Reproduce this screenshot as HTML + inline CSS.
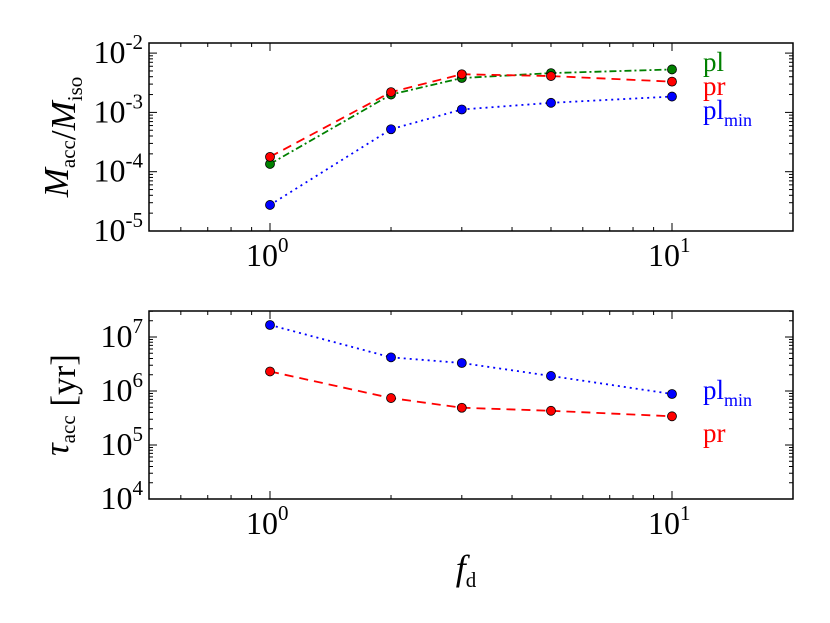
<!DOCTYPE html>
<html><head><meta charset="utf-8"><style>
body{margin:0;background:#fff}
svg{display:block;font-family:"Liberation Serif",serif}
</style></head><body>
<svg id="c" width="830" height="623" viewBox="0 0 830 623" xmlns="http://www.w3.org/2000/svg"></svg>
<script>
const fd = [1, 2, 3, 5, 10];
const macc_pl = [1.35e-4, 2.0e-3, 3.8e-3, 4.6e-3, 5.3e-3];
const macc_pr = [1.78e-4, 2.2e-3, 4.4e-3, 4.1e-3, 3.3e-3];
const macc_plmin = [2.75e-5, 5.2e-4, 1.12e-3, 1.45e-3, 1.85e-3];
const tau_plmin = [1.67e7, 4.2e6, 3.3e6, 1.9e6, 8.8e5];
const tau_pr = [2.3e6, 7.4e5, 4.9e5, 4.3e5, 3.4e5];
const xTickExp = [0, 1];
const topTickExp = [-5, -4, -3, -2];
const botTickExp = [4, 5, 6, 7];

const NS = "http://www.w3.org/2000/svg";
const svg = document.getElementById('c');
function el(tag, attrs, parent) {
  const e = document.createElementNS(NS, tag);
  for (const k in attrs) e.setAttribute(k, attrs[k]);
  (parent || svg).appendChild(e);
  return e;
}
const X0 = 149, X1 = 793;
const xmin = Math.log10(0.5), xmax = Math.log10(20);
function xs(v) { return X0 + (Math.log10(v) - xmin) / (xmax - xmin) * (X1 - X0); }
const topP = {y0: 43, y1: 231, lmin: -5, dec: 59.3};
const botP = {y0: 311, y1: 499, lmin: 4, dec: 54};
function ys(p, v) { return p.y1 - (Math.log10(v) - p.lmin) * p.dec; }

function panel(p, name, yExps) {
  const g = el('g', {});
  
  
  el('rect', {x: X0, y: p.y0, width: X1 - X0, height: p.y1 - p.y0, fill: 'none', stroke: '#000', 'stroke-width': 1.5}, g);
  for (let d = -1; d <= 1; d++) for (let m = 1; m <= 9; m++) {
    const v = m * Math.pow(10, d);
    if (v < 0.5 || v > 20) continue;
    const x = xs(v), L = m === 1 ? 8 : 4;
    el('line', {x1: x, x2: x, y1: p.y1, y2: p.y1 - L, stroke: '#000'}, g);
    el('line', {x1: x, x2: x, y1: p.y0, y2: p.y0 + L, stroke: '#000'}, g);
  }
  const ytop = p.lmin + (p.y1 - p.y0) / p.dec;
  for (let d = p.lmin; d <= Math.ceil(ytop); d++) for (let m = 1; m <= 9; m++) {
    const lv = d + Math.log10(m);
    if (lv > ytop) continue;
    const y = p.y1 - (lv - p.lmin) * p.dec, L = m === 1 ? 8 : 4;
    el('line', {x1: X0, x2: X0 + L, y1: y, y2: y, stroke: '#000'}, g);
    el('line', {x1: X1, x2: X1 - L, y1: y, y2: y, stroke: '#000'}, g);
  }
  yExps.forEach(e => {
    const y = ys(p, Math.pow(10, e));
    const t = el('text', {x: X0 - 6, y: y + 10, 'text-anchor': 'end', 'font-size': 32});
    
    
    t.innerHTML = '10<tspan dy="-14" font-size="21">' + e + '</tspan>';
  });
  xTickExp.forEach(e => {
    const x = xs(Math.pow(10, e));
    const t = el('text', {x: x - 24, y: p.y1 + 35, 'font-size': 32});
    
    
    t.innerHTML = '10<tspan dy="-14" font-size="21">' + e + '</tspan>';
  });
}
function series(p, vals, color, dash, name) {
  const pts = fd.map((f, i) => xs(f) + ',' + ys(p, vals[i])).join(' ');
  const l = el('polyline', {points: pts, fill: 'none', stroke: color, 'stroke-width': 1.8, 'stroke-dasharray': dash});
  
  
  fd.forEach((f, i) => {
    const c = el('circle', {cx: xs(f), cy: ys(p, vals[i]), r: 4.5, fill: color, stroke: '#000', 'stroke-width': 0.8});
    
    
  });
}
panel(topP, 'top', topTickExp);
panel(botP, 'bottom', botTickExp);
series(topP, macc_pl, '#008000', '7,3,2,3', 'macc-pl');
series(topP, macc_pr, '#ff0000', '9,6', 'macc-pr');
series(topP, macc_plmin, '#0000ff', '2,4', 'macc-plmin');
series(botP, tau_plmin, '#0000ff', '2,4', 'tau-plmin');
series(botP, tau_pr, '#ff0000', '9,6', 'tau-pr');

function label(x, y, html, color, name, size, anchor, rot) {
  const t = el('text', {x: x, y: y, fill: color, 'font-size': size || 27, 'text-anchor': anchor || 'start'});
  if (rot) t.setAttribute('transform', 'rotate(-90 ' + x + ' ' + y + ')');
  
  
  t.innerHTML = html;
}
const sub = (s, f) => '<tspan dy="7" font-size="' + (f || 18) + '">' + s + '</tspan><tspan dy="-7"></tspan>';
label(703, 71, 'pl', '#008000', 'legend-pl');
label(703, 95, 'pr', '#ff0000', 'legend-pr-top');
label(703, 119, 'pl' + sub('min'), '#0000ff', 'legend-plmin-top');
label(703, 399, 'pl' + sub('min'), '#0000ff', 'legend-plmin-bottom');
label(703, 442, 'pr', '#ff0000', 'legend-pr-bottom');
label(68, 137, '<tspan font-style="italic">M</tspan>' + sub('acc', 21) + '/<tspan font-style="italic">M</tspan>' + sub('iso', 21), '#000', 'top-y-axis-title', 35, 'middle', true);
label(68, 405, '<tspan font-style="italic">τ</tspan>' + sub('acc', 21) + ' [yr]', '#000', 'bottom-y-axis-title', 35, 'middle', true);
label(466, 580, '<tspan font-style="italic">f</tspan>' + sub('d', 21), '#000', 'x-axis-title', 36, 'middle');
</script>
</body></html>
